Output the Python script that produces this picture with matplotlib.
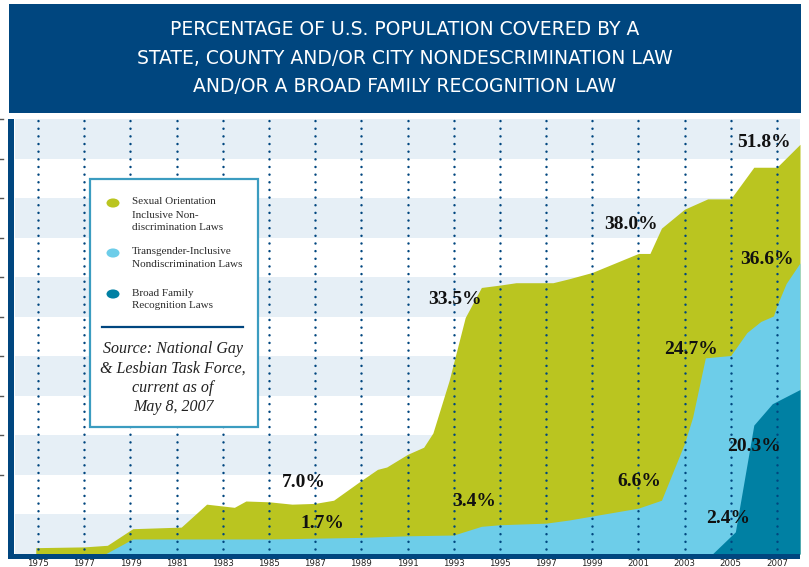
import matplotlib.pyplot as plt
from matplotlib.patches import Rectangle, Circle
from matplotlib.lines import Line2D
import matplotlib.transforms as mtransforms

W, H = 809, 567

# sexual orientation inclusive nondiscrimination laws (% of US population)
years_so = [1974.9, 1977, 1978, 1979.1, 1981.2, 1982.3, 1983.5, 1984, 1985, 1986,
            1987, 1987.8, 1989, 1989.7, 1990.1, 1991, 1991.7, 1992.1, 1992.8, 1993.5,
            1994.2, 1995, 1995.7, 1997.3, 1998, 1999, 2000, 2001, 2001.5, 2002,
            2003, 2004, 2005, 2006, 2007, 2008]
pct_so = [0.8, 0.9, 1.1, 3.2, 3.4, 6.3, 5.9, 6.7, 6.6, 6.3,
          6.4, 6.8, 9.3, 10.7, 11.0, 12.6, 13.5, 15.3, 21.9, 29.9,
          33.7, 34.0, 34.3, 34.3, 34.8, 35.6, 36.8, 38.0, 38.0, 41.2,
          43.6, 44.9, 44.9, 48.9, 48.9, 51.8]

# transgender-inclusive nondiscrimination laws
years_tg = [1977.9, 1979.1, 1985, 1987, 1989, 1991, 1993, 1994.2, 1995, 1997,
            1998, 1999, 2001, 2002, 2003, 2003.35, 2003.9, 2005, 2005.7, 2006.3,
            2006.85, 2007, 2007.4, 2008]
pct_tg = [0, 1.9, 1.9, 2.0, 2.1, 2.3, 2.4, 3.5, 3.7, 3.9,
          4.3, 4.8, 5.8, 6.8, 14.0, 17.3, 24.8, 25.1, 28.0, 29.4,
          30.1, 31.4, 34.2, 36.8]

# broad family recognition laws
years_fam = [2004.2, 2005.2, 2006.0, 2006.8, 2008]
pct_fam = [0, 2.8, 16.3, 19.0, 20.8]

tick_years = list(range(1975, 2008, 2))

value_labels = ['7.0%', '1.7%', '33.5%', '3.4%', '38.0%', '6.6%',
                '24.7%', '2.4%', '20.3%', '51.8%', '36.6%']

title = ('PERCENTAGE OF U.S. POPULATION COVERED BY A\n'
         'STATE, COUNTY AND/OR CITY NONDESCRIMINATION LAW\n'
         'AND/OR A BROAD FAMILY RECOGNITION LAW')

navy = '#00467f'
stripe = '#e6eff6'
green = '#bac520'
lightblue = '#6dcde9'
teal = '#0080a3'
box_edge = '#3b9cc0'


def fx(px):
    return px / W


def fy(py):
    return 1 - py / H


fig = plt.figure(figsize=(W / 100, H / 100), dpi=100)
ax = fig.add_axes([fx(15), fy(554), fx(800) - fx(15), fy(119) - fy(554)])
ax.set_xlim(1974, 2008)
ax.set_ylim(0, 55)
ax.axis('off')

# alternating stripes
for lo in range(0, 55, 10):
    ax.axhspan(lo, lo + 5, color=stripe, lw=0, zorder=0)

ax.fill_between(years_so, pct_so, 0, color=green, lw=0, zorder=1)
ax.fill_between(years_tg, pct_tg, 0, color=lightblue, lw=0, zorder=2)
ax.fill_between(years_fam, pct_fam, 0, color=teal, lw=0, zorder=3)

for yr in tick_years:
    ax.plot([yr, yr], [0.6, 55], color=navy, lw=1.8, linestyle=(0, (0.01, 3.05)),
            dash_capstyle='round', zorder=4)
    fig.text(ax.transData.transform((yr, 0))[0] / W, fy(566), str(yr),
             ha='center', va='baseline', fontsize=6.2, color='#222222',
             family='DejaVu Sans')

label_pos = [(1986.5, 9.1), (1987.3, 3.8), (1993.05, 32.2), (1993.9, 6.6),
             (2000.7, 41.6), (2001.05, 9.2), (2003.3, 25.9), (2004.9, 4.5),
             (2006.0, 13.6), (2006.46, 52.0), (2006.55, 37.2)]
for txt, (x, y) in zip(value_labels, label_pos):
    ax.text(x, y, txt, ha='center', va='center', fontsize=14, fontweight='bold',
            family='Liberation Serif', color='#111111', zorder=5)

# small y tick marks at the far left
blend = mtransforms.blended_transform_factory(fig.transFigure, ax.transData)
for v in range(10, 56, 5):
    fig.add_artist(Line2D([0, fx(3)], [v, v], transform=blend, color='#555555', lw=1))

# thick axis bars
fig.add_artist(Rectangle((fx(8), fy(559)), fx(6), fy(119) - fy(559),
                         transform=fig.transFigure, color=navy, lw=0))
fig.add_artist(Rectangle((fx(8), fy(559)), fx(792), fy(554) - fy(559),
                         transform=fig.transFigure, color=navy, lw=0))

# title banner
fig.add_artist(Rectangle((fx(9), fy(113)), fx(792), fy(4) - fy(113),
                         transform=fig.transFigure, color=navy, lw=0))
fig.text(0.5, fy(58), title, ha='center', va='center', color='white',
         fontsize=13.5, family='DejaVu Sans', linespacing=1.62)

# legend box
fig.add_artist(Rectangle((fx(90), fy(427)), fx(168), fy(179) - fy(427),
                         transform=fig.transFigure, facecolor='white',
                         edgecolor=box_edge, lw=1.6, zorder=6))
leg_items = [(green, 203, ['Sexual Orientation', 'Inclusive Non-', 'discrimination Laws']),
             (lightblue, 253, ['Transgender-Inclusive', 'Nondiscrimination Laws']),
             (teal, 294, ['Broad Family', 'Recognition Laws'])]
for col, yc, lines in leg_items:
    fig.add_artist(Circle((fx(113), fy(yc)), 6.5 / W, transform=fig.transFigure,
                          color=col, lw=0, zorder=7))
    for i, ln in enumerate(lines):
        fig.text(fx(132), fy(yc - 1 + 13 * i), ln, ha='left', va='center',
                 fontsize=8, family='Liberation Serif', color='#2a2a2a', zorder=7)
fig.add_artist(Line2D([fx(102), fx(243)], [fy(327), fy(327)],
                      transform=fig.transFigure, color=navy, lw=1.6, zorder=7))
fig.text(fx(173), fy(378), 'Source: National Gay\n& Lesbian Task Force,\ncurrent as of\nMay 8, 2007',
         ha='center', va='center', fontsize=11.5, style='italic',
         family='Liberation Serif', color='#222222', linespacing=1.3, zorder=7)

fig.savefig('out.png', dpi=100)
